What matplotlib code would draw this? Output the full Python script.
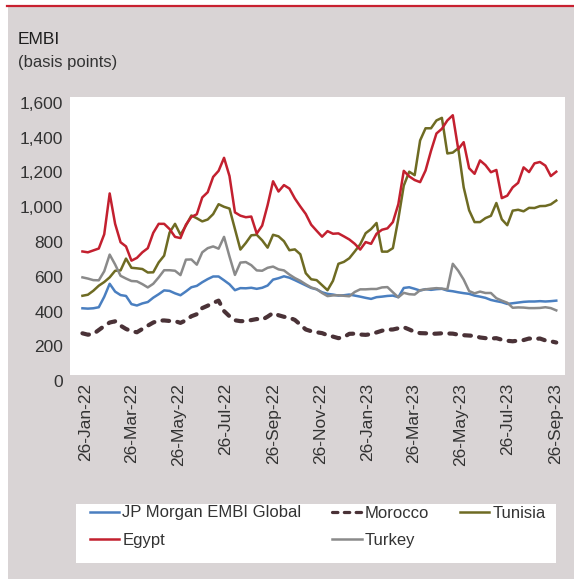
import matplotlib
matplotlib.use('Agg')
import matplotlib.pyplot as plt
from matplotlib.transforms import ScaledTranslation
from matplotlib.patches import Rectangle
from matplotlib.lines import Line2D
import matplotlib.dates as mdates
import pandas as pd

plt.rcParams['font.family'] = ['Liberation Sans', 'DejaVu Sans']

# ---------------- data (weekly readings, basis points) ----------------
dates = pd.date_range(start='2022-01-22', end='2023-09-27', periods=88)

jpm = [384, 382, 384, 390, 450, 525, 480, 460, 455, 408,
       400, 412, 420, 445, 465, 487, 484, 470, 459, 481,
       505, 513, 534, 552, 567, 567, 545, 522, 488, 500,
       499, 502, 496, 502, 515, 549, 557, 568, 560, 546,
       531, 516, 501, 493, 476, 467, 463, 457, 459, 463,
       457, 451, 444, 438, 448, 451, 455, 457, 448, 501,
       505, 496, 486, 494, 490, 494, 496, 486, 482, 476,
       471, 467, 457, 451, 444, 432, 425, 419, 409, 413,
       417, 421, 423, 423, 425, 423, 425, 428]

morocco = [240, 232, 236, 259, 282, 302, 309, 284, 265, 252, 246, 265, 284, 302, 313,
           314, 311, 310, 300, 315, 338, 350, 385, 399, 415, 428, 368, 338, 315,
           310, 310, 316, 322, 318, 336, 357, 344, 335, 330, 317, 290, 262, 252, 246,
           241, 229, 221, 212, 218, 237, 238, 233, 231, 235, 245, 255, 261, 262, 269,
           275, 262, 248, 241, 240, 237, 238, 240, 239, 238, 232, 229, 227, 225,
           216, 212, 210, 212, 203, 197, 194, 198, 201, 210, 207, 210, 199, 194, 187]

tunisia = [456, 462, 485, 514, 535, 562, 600, 602, 670, 617, 614, 610, 590, 591, 648,
           687, 820, 870, 807, 860, 918, 902, 884, 895, 926, 983, 968, 958, 840,
           722, 760, 804, 807, 775, 733, 807, 798, 770, 718, 723, 695, 586, 551, 546,
           517, 488, 542, 640, 651, 672, 711, 752, 816, 840, 875, 710, 710, 730, 898,
           1090, 1170, 1150, 1350, 1420, 1420, 1465, 1480, 1275, 1280, 1305, 1080, 948, 880,
           880, 903, 916, 990, 896, 862, 946, 951, 942, 962, 961, 972, 973, 982, 1004]

egypt = [711, 706, 717, 728, 810, 1045, 870, 764, 740, 658, 674, 706, 730, 818, 870,
         870, 840, 795, 788, 865, 910, 925, 1022, 1052, 1140, 1175, 1250, 1145, 936,
         917, 908, 912, 814, 860, 978, 1115, 1056, 1093, 1073, 1016, 970, 927, 865, 830,
         796, 828, 813, 815, 798, 780, 755, 722, 765, 755, 813, 836, 844, 880, 983,
         1175, 1143, 1122, 1110, 1177, 1290, 1390, 1417, 1465, 1495, 1300, 1340, 1190, 1158,
         1235, 1208, 1167, 1180, 1018, 1032, 1080, 1106, 1195, 1168, 1218, 1226, 1205, 1145, 1170]

turkey = [562, 555, 546, 545, 597, 693, 636, 571, 555, 541, 539, 523, 504, 525, 562,
          603, 603, 600, 575, 664, 665, 635, 706, 730, 740, 727, 795, 682, 576,
          647, 650, 632, 602, 600, 617, 624, 608, 602, 578, 558, 542, 522, 504, 494,
          472, 454, 458, 459, 456, 453, 478, 493, 493, 495, 495, 504, 506, 476, 447,
          473, 465, 463, 488, 493, 497, 500, 497, 493, 640, 600, 549, 483, 470,
          480, 472, 472, 442, 428, 416, 387, 389, 388, 385, 385, 386, 390, 385, 372]

tick_dates = ['2022-01-26', '2022-03-26', '2022-05-26', '2022-07-26', '2022-09-26',
              '2022-11-26', '2023-01-26', '2023-03-26', '2023-05-26', '2023-07-26',
              '2023-09-26']
y_ticks = [0, 200, 400, 600, 800, 1000, 1200, 1400, 1600]

title = 'EMBI'
subtitle = '(basis points)'

# ---------------- figure ----------------
W, H = 574, 579
fig = plt.figure(figsize=(W / 100, H / 100), dpi=100)
fig.patch.set_facecolor('white')

def fx(px):
    return px / W

def fy(py):
    return 1 - py / H

BG = '#d9d4d5'
TXT = '#333333'
fig.patches.append(Rectangle((fx(8), 0), 1 - fx(8), fy(7), transform=fig.transFigure,
                             facecolor=BG, edgecolor='none', zorder=-5))
fig.add_artist(Line2D([fx(7), 1], [fy(5.5), fy(5.5)], color='#c8202f', lw=1.6,
                      transform=fig.transFigure))

fig.text(fx(18), fy(39.5), title, fontsize=12.5, color='#1e1e1e', va='center', ha='left')
fig.text(fx(18), fy(63), subtitle, fontsize=12, color=TXT, va='center', ha='left')

ax = fig.add_axes([fx(70), fy(375), (565 - 70) / W, (375 - 97) / H])
ax.set_facecolor('white')
ax.set_zorder(0)
for s in ax.spines.values():
    s.set_visible(False)

c_jpm, c_mor, c_tun, c_egy, c_tur = '#4a7fc0', '#4a3237', '#6e6b23', '#c3202f', '#8a8a8a'
l_jpm, = ax.plot(dates, jpm, color=c_jpm, lw=1.8, label='JP Morgan EMBI Global')
l_mor, = ax.plot(dates, morocco, color=c_mor, lw=3.0, dashes=(1.6, 2.0),
                 dash_capstyle='round', label='Morocco')
l_tun, = ax.plot(dates, tunisia, color=c_tun, lw=1.8, label='Tunisia')
l_egy, = ax.plot(dates, egypt, color=c_egy, lw=1.8, label='Egypt')
l_tur, = ax.plot(dates, turkey, color=c_tur, lw=1.8, label='Turkey')

t0 = pd.Timestamp('2022-01-26')
t1 = pd.Timestamp('2023-09-26')
ax.set_xlim(t0 - pd.Timedelta(days=20.1), t1 + pd.Timedelta(days=12.3))
ax.set_ylim(0, 1600)

ax.set_xticks([pd.Timestamp(d) for d in tick_dates])
ax.xaxis.set_major_formatter(mdates.DateFormatter('%d-%b-%y'))
ax.set_yticks(y_ticks)
ax.set_yticklabels([f'{v:,}' for v in y_ticks])
ax.tick_params(axis='both', length=0, labelsize=12.5, labelcolor=TXT)
ax.tick_params(axis='y', pad=5)
ax.tick_params(axis='x', pad=5.8)
for lab in ax.get_xticklabels():
    lab.set_rotation(90)
off = ScaledTranslation(0, -6 / 100, fig.dpi_scale_trans)
for lab in ax.get_yticklabels():
    lab.set_transform(lab.get_transform() + off)

# legend background box
fig.patches.append(Rectangle((fx(76), fy(563)), fx(556) - fx(76), fy(504) - fy(563),
                             transform=fig.transFigure, facecolor='white',
                             edgecolor='none', zorder=1))
mor_proxy = Line2D([], [], color=c_mor, lw=2.3, dashes=(1.7, 2.0),
                   dash_capstyle='round')
handles = [l_jpm, l_egy, mor_proxy, l_tur, l_tun]
labels = ['JP Morgan EMBI Global', 'Egypt', 'Morocco', 'Turkey', 'Tunisia']
leg = fig.legend(handles=handles, labels=labels, ncol=3,
                 loc='upper left', bbox_to_anchor=(fx(90), fy(505.5)), frameon=False,
                 fontsize=12, handlelength=1.75, handletextpad=0.2,
                 columnspacing=1.85, labelspacing=0.74, borderpad=0, borderaxespad=0)
for t in leg.get_texts():
    t.set_color(TXT)
leg.set_zorder(2)

fig.savefig('out.png', dpi=100, facecolor='white')
